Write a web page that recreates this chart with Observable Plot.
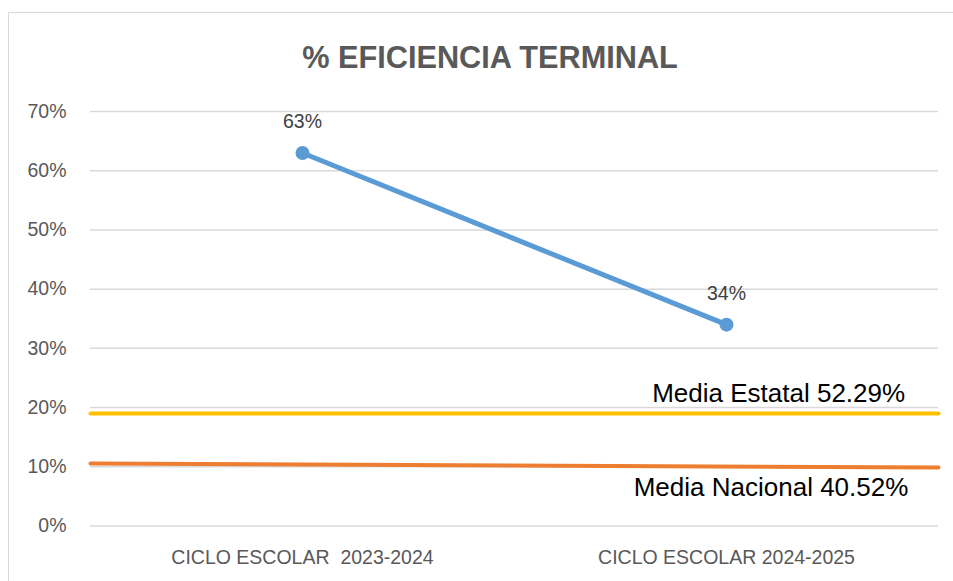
<!DOCTYPE html>
<html><head><meta charset="utf-8">
<script src="https://cdn.jsdelivr.net/npm/d3@7"></script>
<script src="https://cdn.jsdelivr.net/npm/@observablehq/plot@0.6"></script>
<style>
body{margin:0;width:953px;height:581px;overflow:hidden;background:#fff;position:relative;font-family:"Liberation Sans",Arial,sans-serif}
#frame{position:absolute;left:8px;top:12px;width:1000px;height:700px;border:1.5px solid #d9d9d9;box-sizing:border-box}
#chart{position:absolute;left:0;top:0}
#title{position:absolute;left:0;width:980px;top:43px;text-align:center;font-weight:bold;font-size:30.7px;line-height:30px;color:#595959;white-space:nowrap}
svg text{white-space:pre}
</style>
</head><body>
<div id="frame"></div>
<div id="chart"></div>
<div id="title">% EFICIENCIA TERMINAL</div>
<script>
const categories = ["CICLO ESCOLAR  2023-2024", "CICLO ESCOLAR 2024-2025"];
const eficiencia = [63, 34];
const mediaEstatalLine = [19.0, 19.0];
const mediaNacionalLine = [10.56, 9.88];
const mediaEstatalLabel = "Media Estatal 52.29%";
const mediaNacionalLabel = "Media Nacional 40.52%";
const yTicks = [0, 10, 20, 30, 40, 50, 60, 70];

const pos = (d, i) => i + 0.5;
const edge = (d, i) => i * 2;

const chart = Plot.plot({
  width: 953, height: 581,
  marginLeft: 90, marginRight: 15, marginTop: 111, marginBottom: 55.5,
  x: {domain: [0, 2], axis: null},
  y: {domain: [0, 70], axis: null},
  style: {fontFamily: '"Liberation Sans", Arial, sans-serif', background: "transparent", overflow: "visible"},
  marks: [
    Plot.gridY(yTicks, {stroke: "#d9d9d9", strokeOpacity: 1, strokeWidth: 1.5}),
    Plot.axisY(yTicks, {tickSize: 0, tickPadding: 24, tickFormat: d => d + "%", fontSize: 19.5, fill: "#595959", label: null}),
    Plot.axisX([0.5, 1.5], {tickSize: 0, tickPadding: 24.5, tickFormat: d => categories[Math.floor(d)], fontSize: 19.5, fill: "#595959", label: null}),
    Plot.line(mediaEstatalLine, {x: edge, y: d => d, stroke: "#ffc000", strokeWidth: 4, clip: false}),
    Plot.line(mediaNacionalLine, {x: edge, y: d => d, stroke: "#ed7d31", strokeWidth: 4, clip: false}),
    Plot.line(eficiencia, {x: pos, y: d => d, stroke: "#5b9bd5", strokeWidth: 5, strokeLinecap: "round"}),
    Plot.dot(eficiencia, {x: pos, y: d => d, r: 7, fill: "#5b9bd5", stroke: "none"}),
    Plot.text(eficiencia, {x: pos, y: d => d, text: d => d + "%", dy: -31, fontSize: 19.5, fill: "#404040"}),
    Plot.text([mediaEstatalLabel], {x: 1.623, y: mediaEstatalLine[1], text: d => d, dy: -20.3, fontSize: 26, fill: "#000"}),
    Plot.text([mediaNacionalLabel], {x: 1.605, y: mediaNacionalLine[1], text: d => d, dy: 19.7, fontSize: 26, fill: "#000"})
  ]
});
document.getElementById("chart").append(chart);
</script>
</body></html>
